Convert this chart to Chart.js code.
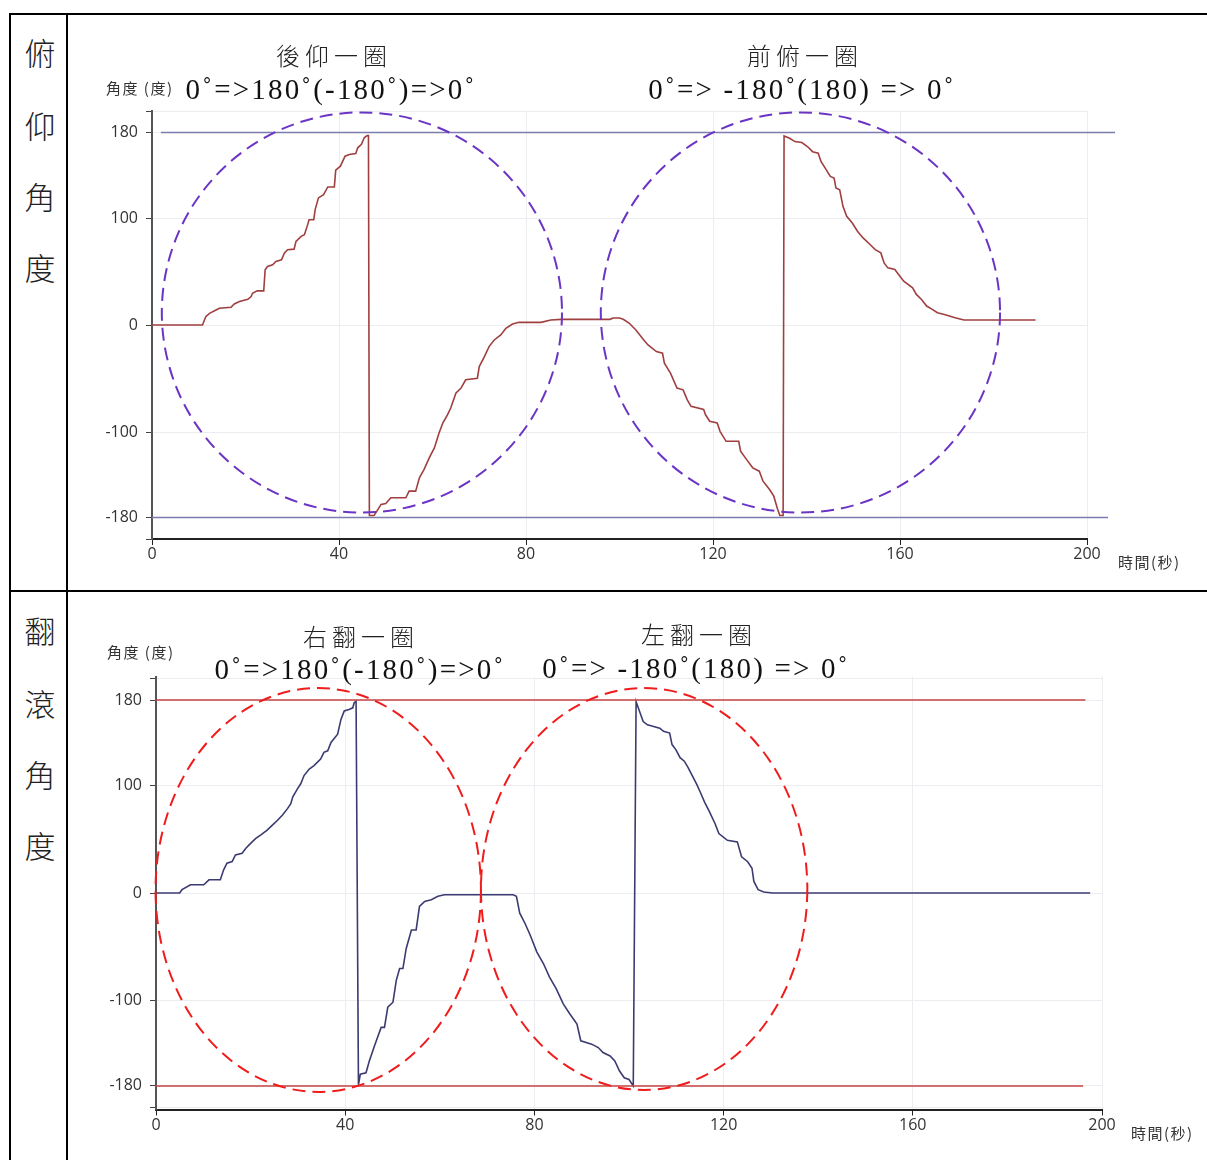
<!DOCTYPE html>
<html lang="zh-Hant">
<head>
<meta charset="utf-8">
<title>俯仰角度 / 翻滾角度</title>
<script src="https://cdn.jsdelivr.net/npm/chart.js@4.4.1/dist/chart.umd.min.js"></script>
<style>
  html, body { margin: 0; padding: 0; background: #fff; }
  body { width: 1207px; height: 1160px; position: relative; overflow: hidden; }
  .line { position: absolute; background: #000; }
  .side { position: absolute; left: 22px; width: 36px; text-align: center;
          font-family: 'Noto Sans CJK TC', sans-serif; font-size: 31px; line-height: 30px; color: #222; font-weight: 300; }
  .title { position: absolute; width: 220px; text-align: center; white-space: nowrap;
           font-family: 'Noto Sans CJK TC', sans-serif; font-size: 24px; line-height: 24px; letter-spacing: 5px; color: #222; font-weight: 300; }
  .formula { position: absolute; white-space: nowrap; text-align: center;
             font-family: 'Liberation Serif', 'DejaVu Serif', serif; font-size: 29px; line-height: 30px; color: #111; letter-spacing: 2.2px; }
  .axis-name { position: absolute; white-space: nowrap;
               font-family: 'Noto Sans CJK TC', sans-serif; font-size: 15px; line-height: 16px; letter-spacing: 1.5px; color: #333; }
  canvas { position: absolute; }
</style>
</head>
<body>
  <!-- table frame -->
  <div class="line" style="left:10px; top:13px; width:1197px; height:2px;"></div>
  <div class="line" style="left:10px; top:590px; width:1197px; height:2px;"></div>
  <div class="line" style="left:9px; top:13px; width:2px; height:1147px;"></div>
  <div class="line" style="left:66px; top:13px; width:2px; height:1147px;"></div>

  <div class="side" style="top:37px;">俯</div>
  <div class="side" style="top:110px;">仰</div>
  <div class="side" style="top:181px;">角</div>
  <div class="side" style="top:252px;">度</div>
  <div class="side" style="top:615px;">翻</div>
  <div class="side" style="top:688px;">滾</div>
  <div class="side" style="top:759px;">角</div>
  <div class="side" style="top:830px;">度</div>

  <canvas id="pitchChart" width="1139" height="574" style="left:68px; top:16px;"></canvas>
  <canvas id="rollChart" width="1139" height="567" style="left:68px; top:593px;"></canvas>

  <div class="title" style="left:224px; top:43px;">後仰一圈</div>
  <div class="formula" style="left:176px; width:310px; top:74px;">0˚=>180˚(-180˚)=>0˚</div>
  <div class="title" style="left:695px; top:43px;">前俯一圈</div>
  <div class="formula" style="left:637px; width:330px; top:74px;">0˚=> -180˚(180) => 0˚</div>
  <div class="axis-name" style="left:106px; top:80px;">角度 (度)</div>
  <div class="axis-name" style="left:1118px; top:554px;">時間(秒)</div>

  <div class="title" style="left:251px; top:624px;">右翻一圈</div>
  <div class="formula" style="left:205px; width:310px; top:654px;">0˚=>180˚(-180˚)=>0˚</div>
  <div class="title" style="left:589px; top:622px;">左翻一圈</div>
  <div class="formula" style="left:531px; width:330px; top:653px;">0˚=> -180˚(180) => 0˚</div>
  <div class="axis-name" style="left:107px; top:644px;">角度 (度)</div>
  <div class="axis-name" style="left:1131px; top:1125px;">時間(秒)</div>

<script>
// 時間(秒), 角度(度)
const pitchPoints = [
  [0, 0], [10.8, 0], [11.5, 7.8], [12.3, 10.9], [13.7, 14], [14.4, 15.6], [16.9, 16.6], [17.6, 19.7],
  [18.7, 21.9], [20.5, 24], [21.2, 26.6], [21.5, 29.7], [22.5, 31.9], [23.9, 31.9], [24.2, 51.6],
  [24.7, 54.7], [25.8, 56.3], [26.5, 59.4], [27.7, 60.9], [28.3, 67.2], [29, 70.3], [30.4, 70.9],
  [30.8, 78.1], [31.9, 82.8], [32.6, 84.4], [33.3, 93.8], [33.6, 98.4], [34.6, 98.4], [34.9, 107.8],
  [35.6, 118.8], [36.7, 121.9], [37.6, 129], [39, 129], [39.3, 144.7], [40.3, 148.4], [41.3, 157.8],
  [42.2, 159.4], [43.6, 160.3], [44, 165.6], [44.8, 168.8], [45.4, 175], [46, 177], [46.3, 177],
  [46.5, -178], [47.5, -178], [48.1, -174], [49, -167.7], [50, -166.8], [51.1, -161.5], [54.3, -161.5],
  [55, -155.3], [56.4, -155.3], [57.2, -142.9], [58.2, -135], [59.3, -124.2], [60.4, -114.9],
  [61.4, -100.9], [62.2, -91.6], [63.2, -83.9], [63.9, -77.6], [65, -63.7], [66.1, -59], [67.1, -51.2],
  [69.6, -49.7], [70, -38.8], [71.1, -29.5], [72.1, -20.2], [73.2, -14], [74.6, -9.3], [75.7, -3.1],
  [77.1, 0.9], [78.5, 2.5], [83.2, 2.5], [85.3, 4.7], [87.5, 5.3], [98, 5.3], [98.6, 6.5], [100, 6.5],
  [100.8, 5.3], [102.1, 1.6], [103.5, -4.7], [105.2, -14], [106.1, -18.6], [107.9, -24.8], [109.2, -26.4],
  [109.6, -35.7], [110.9, -45], [112.3, -59], [113.6, -60.6], [114.5, -69.9], [115.3, -76], [118, -79],
  [118.4, -83.9], [119.3, -90], [120.9, -91.6], [121.5, -99.4], [122.8, -108.7], [125.5, -108.7],
  [125.9, -118], [127.2, -125.8], [128.5, -133.5], [129.9, -136.6], [130.7, -146], [132.1, -153.7],
  [133, -160], [133.8, -172], [134.3, -178], [135, -178],
  [135.2, 176.7], [136.4, 174.5], [137.5, 171.4], [139, 170.5], [140.2, 166.8], [141.3, 162],
  [142.5, 160.6], [143.1, 152.8], [144, 146.6], [145.1, 138.8], [145.9, 137.3], [146.3, 128],
  [147.1, 126.4], [147.8, 110.9], [148.6, 101.6], [149.8, 95.3], [150.9, 87.6], [152.1, 81.4],
  [153.6, 75.2], [154.7, 70.5], [155.9, 67.4], [156.6, 58], [157.4, 53.4], [158.9, 51.9], [159.7, 47.2],
  [160.8, 41], [162.7, 34.8], [163.5, 28.6], [164.6, 23.9], [165.7, 17.7], [166.9, 14.6], [168, 11.5],
  [169.5, 9.9], [171.8, 6.8], [173.7, 4.7], [189, 4.7]
];

const rollPoints = [
  [0, 0], [5, 0], [5.5, 3.1], [7.3, 7.7], [10.1, 7.7], [11.2, 12.3], [13.6, 12.3], [14.3, 21.6],
  [15, 27.8], [16.1, 29.3], [16.8, 35.5], [18.2, 37], [19, 41.7], [20, 46.3], [21.1, 50.9], [22.1, 54],
  [23.5, 58.6], [24.6, 63.3], [25.7, 67.9], [26.7, 72.5], [27.8, 78.7], [28.5, 83.3], [28.9, 89.5],
  [29.9, 97.2], [30.6, 101.9], [31.3, 109.6], [32.4, 115.7], [33.4, 118.8], [34.8, 125], [35.5, 131.2],
  [36.3, 132.7], [37, 140.4], [38.4, 148.1], [39.1, 162], [39.8, 169.8], [40.8, 171.3], [41.6, 172.8],
  [41.9, 177.5], [42.3, 179],
  [42.8, -179], [43.2, -169], [44.4, -167.7], [45.1, -156.7], [46.2, -142.6], [47.6, -125.4],
  [48.3, -125.4], [49, -106.6], [50.1, -101.9], [50.8, -81.5], [51.5, -70.5], [52.2, -70.5],
  [52.9, -51.7], [54, -34.5], [55, -34.5], [55.7, -12.5], [56.8, -7.8], [58.2, -6.3], [59.6, -3.1],
  [61, -1.6], [75.5, -1.6], [76.2, -3.1], [76.9, -18.8], [78, -28.2], [79.1, -39.2], [80.5, -54.9],
  [81.9, -65.8], [83.2, -78.4], [84.6, -89.3], [86.1, -103.4], [87.5, -112.9], [89, -122.3],
  [89.8, -137.9], [92.1, -141], [93.5, -144.2], [94.5, -148.9], [96, -152], [97, -156.7], [98, -166.1],
  [99, -172.4], [100, -174], [100.9, -180],
  [101.5, 178.5], [103, 160], [103.9, 156.9], [105.2, 155.4], [106.5, 153.8], [107.3, 150.8],
  [108.6, 149.2], [109.1, 138.5], [109.9, 133.8], [110.8, 126.2], [111.7, 123], [112.5, 117],
  [113.4, 109.2], [114.3, 101.5], [115.1, 93.8], [116, 84.6], [116.9, 76.9], [118.2, 64.6], [119, 55.4],
  [120.8, 49.2], [122.9, 47.7], [123.8, 33.8], [125.1, 29.2], [126, 23.1], [126.4, 10.8], [127.3, 3.1],
  [128.5, 1], [130.3, 0], [197.5, 0]
];

// ±180 reference lines (time span, angle)
const pitchRefTop = [[1.9, 180], [206, 180]];
const pitchRefBottom = [[0, -180], [204.5, -180]];
const rollRefTop = [[0, 180], [196.5, 180]];
const rollRefBottom = [[0, -180], [196, -180]];

// dashed loops marking each turn: centre time/angle and half width/height
const pitchLoopT = [44.9, 138.7];
const pitchLoopV = [11.7, 11.7];
const pitchLoopHalfT = [42.8, 42.7];
const pitchLoopHalfV = [187, 187];
const rollLoopT = [34.3, 103.2];
const rollLoopV = [2.8, 3.7];
const rollLoopHalfT = [34.4, 34.5];
const rollLoopHalfV = [188.4, 187.5];

const yTickValues = [-200, -180, -100, 0, 100, 180, 200];
const yTickLabels = [-180, -100, 0, 100, 180];

document.addEventListener('DOMContentLoaded', () => {
  Chart.defaults.font.family = "'Open Sans', 'Noto Sans', sans-serif";
  Chart.defaults.font.size = 16;
  Chart.defaults.color = '#333';

  const gridColor = '#ececf1';
  const toXY = pts => pts.map(([x, y]) => ({ x, y }));

  // dashed ellipses, placed through the chart scales
  const loopPlugin = {
    id: 'loops',
    afterDatasetsDraw(chart, args, opts) {
      const { ctx, scales: { x, y } } = chart;
      ctx.save();
      ctx.strokeStyle = opts.color;
      ctx.lineWidth = 2;
      ctx.setLineDash([13, 7]);
      opts.t.forEach((t, i) => {
        const cx = x.getPixelForValue(t);
        const cy = y.getPixelForValue(opts.v[i]);
        const rx = x.getPixelForValue(t + opts.halfT[i]) - cx;
        const ry = cy - y.getPixelForValue(opts.v[i] + opts.halfV[i]);
        ctx.beginPath();
        ctx.ellipse(cx, cy, rx, ry, 0, 0, Math.PI * 2);
        ctx.stroke();
      });
      ctx.restore();
    }
  };

  function makeChart(id, cfg) {
    return new Chart(document.getElementById(id).getContext('2d'), {
      type: 'line',
      data: {
        datasets: [
          { data: toXY(cfg.refTop), borderColor: cfg.refColor, borderWidth: 1.5, pointRadius: 0, clip: false },
          { data: toXY(cfg.refBottom), borderColor: cfg.refColor, borderWidth: 1.5, pointRadius: 0, clip: false },
          { data: toXY(cfg.points), borderColor: cfg.lineColor, borderWidth: 1.6, pointRadius: 0, tension: 0 }
        ]
      },
      options: {
        responsive: false,
        animation: false,
        events: [],
        layout: { padding: cfg.padding },
        plugins: {
          legend: { display: false },
          tooltip: { enabled: false },
          loops: cfg.loops
        },
        scales: {
          x: {
            type: 'linear', min: 0, max: 200,
            ticks: { stepSize: 40, padding: 0 },
            grid: { color: gridColor, tickColor: '#222', tickLength: 6 },
            border: { color: '#222', width: 2 },
            afterFit: s => { s.height = cfg.xHeight; }
          },
          y: {
            type: 'linear', min: -cfg.yMax, max: cfg.yMax,
            afterBuildTicks: s => { s.ticks = yTickValues.map(v => ({ value: v })); },
            ticks: { padding: 8, callback: v => (yTickLabels.includes(v) ? String(v) : '') },
            grid: { color: gridColor, tickColor: '#444', tickLength: 6 },
            border: { color: '#555', width: 2 },
            afterFit: s => { s.width = cfg.yWidth; }
          }
        }
      },
      plugins: [loopPlugin]
    });
  }

  /* --- 俯仰角度 --- */
  makeChart('pitchChart', {
    points: pitchPoints,
    refTop: pitchRefTop,
    refBottom: pitchRefBottom,
    lineColor: '#a03f3f',
    refColor: '#7c7cae',
    yMax: 200,
    yWidth: 84,
    xHeight: 51,
    padding: { left: 0, right: 120, top: 95, bottom: 0 },
    loops: { color: '#6b34c4', t: pitchLoopT, v: pitchLoopV, halfT: pitchLoopHalfT, halfV: pitchLoopHalfV }
  });

  /* --- 翻滾角度 --- */
  makeChart('rollChart', {
    points: rollPoints,
    refTop: rollRefTop,
    refBottom: rollRefBottom,
    lineColor: '#3b3b72',
    refColor: '#c64343',
    yMax: 202,
    yWidth: 88,
    xHeight: 50.5,
    padding: { left: 0, right: 105, top: 83.5, bottom: 0 },
    loops: { color: '#f01c1c', t: rollLoopT, v: rollLoopV, halfT: rollLoopHalfT, halfV: rollLoopHalfV }
  });
});
</script>
</body>
</html>
